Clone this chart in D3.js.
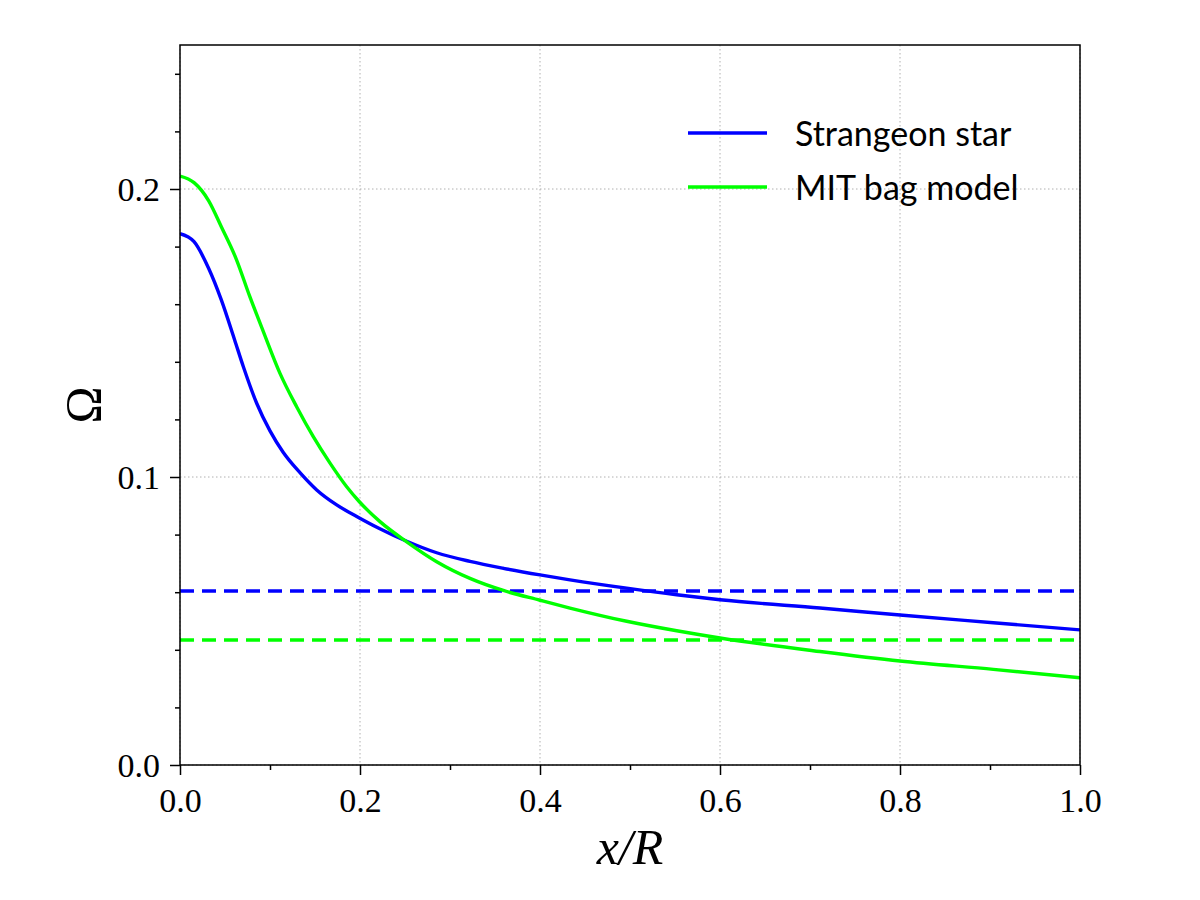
<!DOCTYPE html>
<html>
<head>
<meta charset="utf-8">
<script src="https://cdn.jsdelivr.net/npm/d3@7"></script>
<style>
  html, body { margin: 0; padding: 0; background: #fff; }
  svg { display: block; }
</style>
</head>
<body>
<svg id="chart" width="1200" height="900"></svg>
<script>
// ---- data ----
const strangeonX = [0, 0.0156, 0.0319, 0.0459, 0.0607, 0.0704, 0.0852, 0.1, 0.1148, 0.1333, 0.1519, 0.1741, 0.1993, 0.2204, 0.2519, 0.2852, 0.3222, 0.3593, 0.4, 0.4333, 0.4963, 0.5519, 0.6, 0.7111, 0.8, 0.9037, 1.0];
const strangeonY = [0.1845, 0.1817, 0.1724, 0.1615, 0.1476, 0.1383, 0.1256, 0.1160, 0.1085, 0.1015, 0.0955, 0.0903, 0.0858, 0.0823, 0.0777, 0.0737, 0.0707, 0.0683, 0.0660, 0.0643, 0.0614, 0.0591, 0.0574, 0.0545, 0.0521, 0.0494, 0.0469];
const mitX = [0, 0.0156, 0.0319, 0.0459, 0.0626, 0.0774, 0.0926, 0.1111, 0.1296, 0.1481, 0.1667, 0.1852, 0.1993, 0.2222, 0.2519, 0.2852, 0.3222, 0.3593, 0.4, 0.4333, 0.4963, 0.5519, 0.6, 0.7111, 0.8, 0.9037, 1.0];
const mitY = [0.2045, 0.2022, 0.1959, 0.1869, 0.1756, 0.1628, 0.1505, 0.1360, 0.1244, 0.1140, 0.1048, 0.0966, 0.0914, 0.0845, 0.0775, 0.0706, 0.0648, 0.0606, 0.0572, 0.0545, 0.0499, 0.0466, 0.0441, 0.0394, 0.0361, 0.0332, 0.0303];
const constLevels = [0.0604, 0.0434];          // dashed reference levels (Strangeon, MIT)
const seriesNames = ["Strangeon star", "MIT bag model"];
const seriesColors = ["#0000ff", "#00ff00"];
const xMajorTicks = [0, 0.2, 0.4, 0.6, 0.8, 1.0];
const xMinorTicks = [0.1, 0.3, 0.5, 0.7, 0.9];
const yMajorTicks = [0, 0.1, 0.2];
const yMinorTicks = [0.02, 0.04, 0.06, 0.08, 0.12, 0.14, 0.16, 0.18, 0.22, 0.24];

// ---- layout ----
const L = 180, R = 1080, T = 45, B = 765;
const svg = d3.select("#chart");
const x = d3.scaleLinear().domain([0, 1]).range([L, R]);
const y = d3.scaleLinear().domain([0, 0.25]).range([B, T]);

const serif = "'Liberation Serif', 'Times New Roman', serif";

// grid
const grid = svg.append("g");
grid.selectAll("line.gx").data(xMajorTicks).join("line")
  .attr("x1", d => x(d)).attr("x2", d => x(d)).attr("y1", T).attr("y2", B)
  .attr("stroke", "#b0b0b0").attr("stroke-width", 1).attr("stroke-dasharray", "1.5,2.5");
grid.selectAll("line.gy").data(yMajorTicks).join("line")
  .attr("x1", L).attr("x2", R).attr("y1", d => y(d)).attr("y2", d => y(d))
  .attr("stroke", "#b0b0b0").attr("stroke-width", 1).attr("stroke-dasharray", "1.5,2.5");

// plot clip
svg.append("clipPath").attr("id", "clip").append("rect")
  .attr("x", L).attr("y", T).attr("width", R - L).attr("height", B - T);
const plot = svg.append("g").attr("clip-path", "url(#clip)");

// dashed constant lines
plot.selectAll("line.lvl").data(constLevels).join("line")
  .attr("x1", x(0)).attr("x2", x(1)).attr("y1", d => y(d)).attr("y2", d => y(d))
  .attr("stroke", (d, i) => seriesColors[i]).attr("stroke-width", 3.4)
  .attr("stroke-dasharray", "14,8");

// curves
const line = d3.line().x(d => x(d[0])).y(d => y(d[1])).curve(d3.curveMonotoneX);
const series = [d3.zip(strangeonX, strangeonY), d3.zip(mitX, mitY)];
plot.selectAll("path.curve").data(series).join("path")
  .attr("d", line).attr("fill", "none")
  .attr("stroke", (d, i) => seriesColors[i]).attr("stroke-width", 3.4)
  .attr("stroke-linejoin", "round");

// axes
const xAxis = svg.append("g").attr("transform", `translate(0,${B})`)
  .call(d3.axisBottom(x).tickValues(xMajorTicks).tickFormat(d3.format(".1f")).tickSize(10).tickPadding(8));
const xMinor = svg.append("g").attr("transform", `translate(0,${B})`)
  .call(d3.axisBottom(x).tickValues(xMinorTicks).tickFormat("").tickSize(5));
const yAxis = svg.append("g").attr("transform", `translate(${L},0)`)
  .call(d3.axisLeft(y).tickValues(yMajorTicks).tickFormat(d3.format(".1f")).tickSize(10).tickPadding(10));
const yMinor = svg.append("g").attr("transform", `translate(${L},0)`)
  .call(d3.axisLeft(y).tickValues(yMinorTicks).tickFormat("").tickSize(5));

[xAxis, xMinor, yAxis, yMinor].forEach(g => {
  g.select(".domain").remove();
  g.selectAll(".tick line").attr("stroke", "#000").attr("stroke-width", 1.5);
  g.selectAll(".tick text").attr("fill", "#000").style("font-family", serif).style("font-size", "34px");
});
xAxis.selectAll(".tick text").attr("dy", "0.85em");
yAxis.selectAll(".tick text").attr("dy", "0.34em");

// frame
svg.append("rect").attr("x", L).attr("y", T).attr("width", R - L).attr("height", B - T)
  .attr("fill", "none").attr("stroke", "#000").attr("stroke-width", 1.5);

// axis labels
svg.append("text").attr("x", (L + R) / 2).attr("y", 864).attr("text-anchor", "middle")
  .style("font-family", serif).style("font-size", "50px").style("font-style", "italic")
  .text("x/R");
svg.append("text").attr("transform", "translate(100,405) rotate(-90)").attr("text-anchor", "middle")
  .style("font-family", serif).style("font-size", "50px")
  .text("Ω");

// legend
const legend = svg.append("g");
const legY = [133, 187];
seriesNames.forEach((name, i) => {
  legend.append("line").attr("x1", 688).attr("x2", 767).attr("y1", legY[i]).attr("y2", legY[i])
    .attr("stroke", seriesColors[i]).attr("stroke-width", 3.4);
  legend.append("text").attr("x", 795).attr("y", legY[i] + 13)
    .style("font-family", "Lato, 'Open Sans', sans-serif").style("font-size", "34px")
    .attr("fill", "#000").text(name);
});
</script>
</body>
</html>
